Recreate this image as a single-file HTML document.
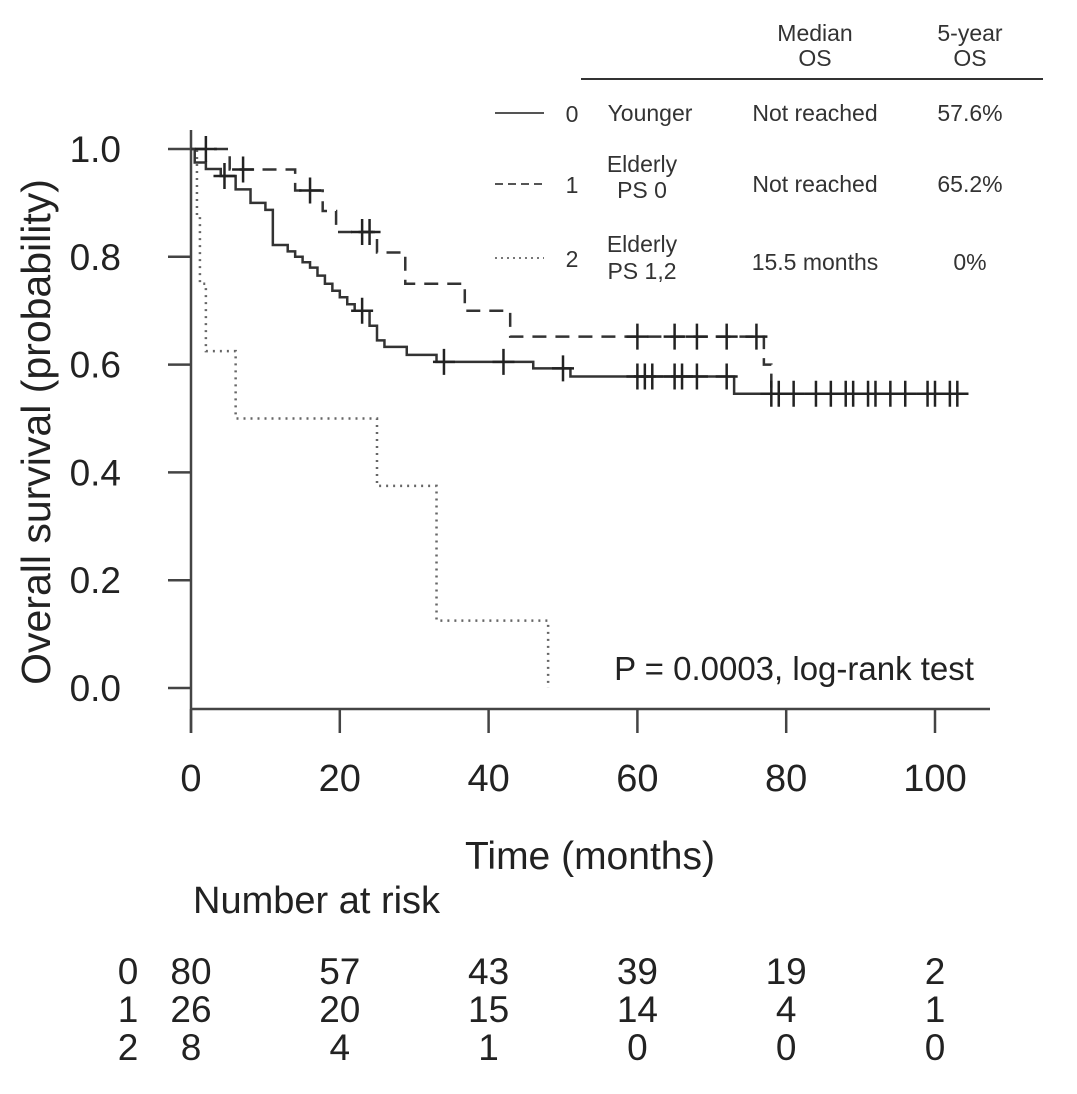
<!DOCTYPE html>
<html><head><meta charset="utf-8"><style>
body{margin:0;background:#fff;}
svg{display:block;font-family:"Liberation Sans",Arial,sans-serif;}
</style></head><body>
<svg id="chart" width="1077" height="1094" viewBox="0 0 1077 1094">
<g id="axes"></g>
<g id="curves"></g>
<g id="legend" font-size="23">
<text x="815" y="41" text-anchor="middle" fill="#333">Median</text>
<text x="815" y="66" text-anchor="middle" fill="#333">OS</text>
<text x="970" y="41" text-anchor="middle" fill="#333">5-year</text>
<text x="970" y="66" text-anchor="middle" fill="#333">OS</text>
<line x1="581" y1="79" x2="1043" y2="79" stroke="#333" stroke-width="2"/>
<line x1="495" y1="113" x2="544" y2="113" stroke="#555" stroke-width="2"/>
<text x="572" y="122" text-anchor="middle" fill="#333">0</text>
<text x="650" y="121" text-anchor="middle" fill="#333">Younger</text>
<text x="815" y="121" text-anchor="middle" fill="#333">Not reached</text>
<text x="970" y="121" text-anchor="middle" fill="#333">57.6%</text>
<line x1="495" y1="184" x2="544" y2="184" stroke="#555" stroke-width="2" stroke-dasharray="8,5"/>
<text x="572" y="193" text-anchor="middle" fill="#333">1</text>
<text x="642" y="172" text-anchor="middle" fill="#333">Elderly</text>
<text x="642" y="198" text-anchor="middle" fill="#333">PS 0</text>
<text x="815" y="192" text-anchor="middle" fill="#333">Not reached</text>
<text x="970" y="192" text-anchor="middle" fill="#333">65.2%</text>
<line x1="495" y1="258" x2="544" y2="258" stroke="#777" stroke-width="2" stroke-dasharray="2,4"/>
<text x="572" y="267" text-anchor="middle" fill="#333">2</text>
<text x="642" y="252" text-anchor="middle" fill="#333">Elderly</text>
<text x="642" y="279" text-anchor="middle" fill="#333">PS 1,2</text>
<text x="815" y="270" text-anchor="middle" fill="#333">15.5 months</text>
<text x="970" y="270" text-anchor="middle" fill="#333">0%</text>
</g>
<text x="794" y="680" font-size="33" text-anchor="middle" fill="#222">P = 0.0003, log-rank test</text>
<text x="590" y="869" font-size="39" text-anchor="middle" fill="#222">Time (months)</text>
<text transform="translate(50,432) rotate(-90)" font-size="41" text-anchor="middle" fill="#222">Overall survival (probability)</text>
<text x="193" y="913" font-size="38" fill="#222">Number at risk</text>
<g id="risk"></g>
</svg>
<script>
const xTicks=[0,20,40,60,80,100];
const yTicks=[0,0.2,0.4,0.6,0.8,1.0];
const yTickLabels=["0.0","0.2","0.4","0.6","0.8","1.0"];
const t0=[0,0.5,2,4,6,8,10,11,13,14,15,16,17,18,19,20,21,22,24,25,26,29,33,46,51,73,104.5];
const s0=[1,0.975,0.963,0.95,0.925,0.9,0.887,0.822,0.81,0.80,0.79,0.78,0.765,0.75,0.737,0.725,0.712,0.70,0.672,0.645,0.633,0.618,0.605,0.593,0.578,0.546,0.546];
const c0t=[4.5,23,34,42,50,60,61,62,65,66,68,72,78,79,81,84,86,88,89,91,92,94,96,99,100,102,103];
const t1=[0,5.2,14,17.7,19.5,25,28.8,36.8,42.9,77,78];
const s1=[1,0.962,0.923,0.885,0.846,0.808,0.75,0.70,0.652,0.60,0.546];
const c1t=[2,7,16,23,24,60,65,68,72,76];
const t2=[0,0.8,1.2,2,6,25,33,48];
const s2=[1,0.875,0.75,0.625,0.5,0.375,0.125,0];
const riskGroups=["0","1","2"];
const risk0=[80,57,43,39,19,2];
const risk1=[26,20,15,14,4,1];
const risk2=[8,4,1,0,0,0];

const X=t=>191+t*7.44, Y=s=>688-s*539;
const NS="http://www.w3.org/2000/svg";
function mk(tag,attrs,parent){const e=document.createElementNS(NS,tag);for(const k in attrs)e.setAttribute(k,attrs[k]);parent.appendChild(e);return e;}
const axes=document.getElementById('axes'),curves=document.getElementById('curves'),risk=document.getElementById('risk');
let a=mk('line',{x1:191,y1:130,x2:191,y2:733,stroke:'#444','stroke-width':2.5},axes);


a=mk('line',{x1:191,y1:709,x2:990,y2:709,stroke:'#444','stroke-width':2.5},axes);


xTicks.forEach(v=>{
 const l=mk('line',{x1:X(v),y1:709,x2:X(v),y2:733,stroke:'#444','stroke-width':2.5},axes);
 
 
 const t=mk('text',{x:X(v),y:791,'font-size':38,'text-anchor':'middle',fill:'#222'},axes);t.textContent=v;
 
 
});
yTicks.forEach((v,i)=>{
 const l=mk('line',{x1:168,y1:Y(v),x2:191,y2:Y(v),stroke:'#444','stroke-width':2.5},axes);
 
 
 const t=mk('text',{x:121,y:Y(v)+13,'font-size':37,'text-anchor':'end',fill:'#222'},axes);t.textContent=yTickLabels[i];
 
 
});
function stepPath(ts,ss){let d='M'+X(ts[0])+','+Y(ss[0]);for(let i=1;i<ts.length;i++){d+=' H'+X(ts[i])+' V'+Y(ss[i]);}return d;}
function sAt(ts,ss,t){let s=ss[0];for(let i=0;i<ts.length;i++){if(ts[i]<=t)s=ss[i];}return s;}
let p=mk('path',{d:stepPath(t2,s2),fill:'none',stroke:'#666','stroke-width':2.5,'stroke-dasharray':'2,5'},curves);


p=mk('path',{d:stepPath(t1,s1),fill:'none',stroke:'#333','stroke-width':2.5,'stroke-dasharray':'14,9'},curves);


p=mk('path',{d:stepPath(t0,s0),fill:'none',stroke:'#333','stroke-width':2.5},curves);


function cens(ts,tt,ss,name){tt.forEach(t=>{const x=X(t),y=Y(sAt(ts,ss,t));
 const g=mk('path',{d:`M${x},${y-13} V${y+13} M${x-11},${y} H${x+11}`,stroke:'#222','stroke-width':2.5,fill:'none'},curves);
 
 });}
cens(t0,c0t,s0,'censor-mark-group-0');
cens(t1,c1t,s1,'censor-mark-group-1');
const rows=[risk0,risk1,risk2];
rows.forEach((r,ri)=>{const y=984+ri*38;
 const lab=mk('text',{x:128,y:y,'font-size':37,'text-anchor':'middle',fill:'#222'},risk);lab.textContent=riskGroups[ri];
 
 
 r.forEach((v,i)=>{const t=mk('text',{x:X(xTicks[i]),y:y,'font-size':37,'text-anchor':'middle',fill:'#222'},risk);t.textContent=v;
 
 });
});
</script>
</body></html>
